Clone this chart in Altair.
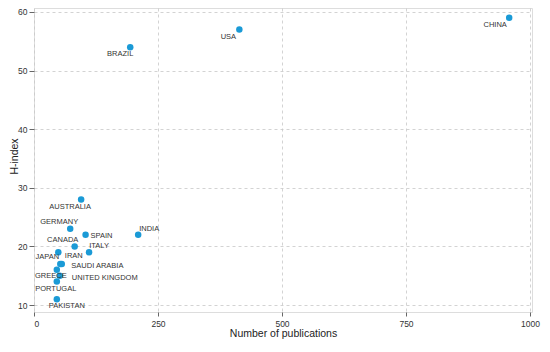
import altair as alt
import pandas as pd

countries = ["CHINA", "USA", "BRAZIL", "AUSTRALIA", "GERMANY", "SPAIN", "INDIA",
             "CANADA", "ITALY", "JAPAN", "IRAN", "SAUDI ARABIA", "GREECE",
             "UNITED KINGDOM", "PORTUGAL", "PAKISTAN"]
publications = [958, 414, 194, 95, 73, 104, 210, 82, 111, 49, 56, 53, 46, 52, 46, 46]
h_index = [59, 57, 54, 28, 23, 22, 22, 20, 19, 19, 17, 17, 16, 15, 14, 11]

x_ticks = [0, 250, 500, 750, 1000]
y_ticks = [10, 20, 30, 40, 50, 60]

# label nudges in pixels (dx, dy, align)
label_nudge = {
    "CHINA": (-14, 7, "center"),
    "USA": (-11, 7, "center"),
    "BRAZIL": (-10, 7, "center"),
    "AUSTRALIA": (-11, 7, "center"),
    "GERMANY": (-11, -7, "center"),
    "SPAIN": (5, 1, "left"),
    "INDIA": (11, -6, "center"),
    "CANADA": (-12, -6, "center"),
    "ITALY": (10, -6, "center"),
    "JAPAN": (-11, 5, "center"),
    "IRAN": (12, -8, "center"),
    "SAUDI ARABIA": (11, 2, "left"),
    "GREECE": (-6, 6, "center"),
    "UNITED KINGDOM": (12, 2, "left"),
    "PORTUGAL": (-1, 7, "center"),
    "PAKISTAN": (10, 7, "center"),
}

df = pd.DataFrame({"country": countries, "pubs": publications, "h": h_index})

FONT = "Liberation Sans"
W, H = 498, 304

xscale = alt.Scale(domain=[0, 1004], nice=False, zero=False)
yscale = alt.Scale(domain=[8.81, 60.68], nice=False, zero=False)

base = alt.Chart(df)

points = base.mark_circle(size=42, color="#1a9ad6", opacity=1).encode(
    x=alt.X("pubs:Q", scale=xscale,
            axis=alt.Axis(values=x_ticks, format="d", title="Number of publications", grid=True,
                          gridDash=[3, 3], gridColor="#c8c8c8", gridWidth=0.8,
                          domain=False, tickColor="#666", tickSize=4,
                          labelFont=FONT, labelFontSize=8.5, labelColor="#333",
                          labelPadding=3, titleFont=FONT, titleFontSize=10.5,
                          titleFontWeight="normal", titleColor="#222",
                          titlePadding=1)),
    y=alt.Y("h:Q", scale=yscale,
            axis=alt.Axis(values=y_ticks, title="H-index", grid=True,
                          gridDash=[3, 3], gridColor="#c8c8c8", gridWidth=0.8,
                          domain=False, tickColor="#666", tickSize=5,
                          labelFont=FONT, labelFontSize=8.5, labelColor="#333",
                          labelPadding=2, titleFont=FONT, titleFontSize=10.5,
                          titleFontWeight="normal", titleColor="#222",
                          titleX=-20, titleY=148, titleAngle=-90,
                          titleBaseline="middle")),
)

layers = [points]
for c in countries:
    dx, dy, al = label_nudge[c]
    layers.append(
        base.transform_filter(alt.datum.country == c).mark_text(
            dx=dx, dy=dy, align=al, baseline="middle", font=FONT,
            fontSize=7.5, color="#333"
        ).encode(x=alt.X("pubs:Q", scale=xscale), y=alt.Y("h:Q", scale=yscale),
                 text="country:N")
    )

chart = alt.layer(*layers).properties(
    width=W, height=H,
    autosize=alt.AutoSizeParams(type="none"),
    padding={"left": 26, "top": 0, "right": 10, "bottom": 32},
).configure_view(stroke="#9a9a9a", strokeWidth=1.3).configure(background="white")

chart.save("out.html", embed_options={"renderer": "svg", "actions": False})
